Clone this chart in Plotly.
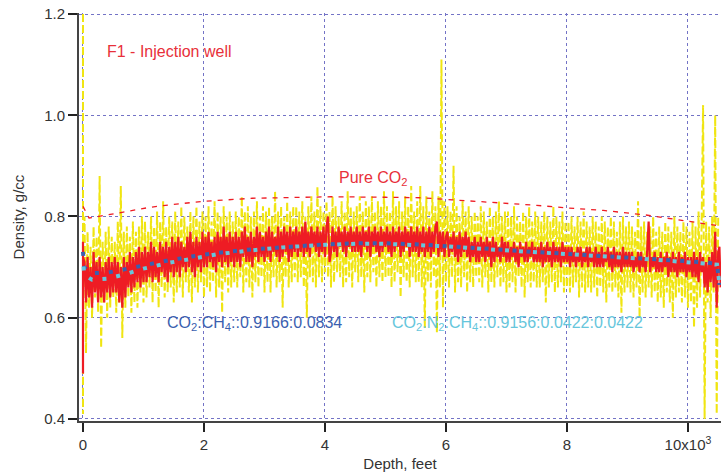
import plotly.graph_objects as go

# ---------------- data (depth in feet, density in g/cc) ----------------
GRID = list(range(25, 10501, 25))   # sampling depths of the logged curves

yellow_start_depth = [0, 0, 0]
yellow_start_val = [1.20, 0.41, 0.76]
yellow_grid_val = [
    0.80, 0.53, 0.77, 0.62, 0.74, 0.60, 0.78, 0.64, 0.76, 0.61, 0.88, 0.54, 0.75, 0.63, 0.77, 0.60, 0.78, 0.62, 0.76, 0.64,
    0.75, 0.61, 0.79, 0.63, 0.86, 0.56, 0.77, 0.62, 0.78, 0.64, 0.76, 0.61, 0.79, 0.63, 0.77, 0.62, 0.78, 0.65, 0.80, 0.63,
    0.79, 0.64, 0.77, 0.66, 0.80, 0.63, 0.78, 0.65, 0.81, 0.62, 0.79, 0.66, 0.83, 0.64, 0.78, 0.65, 0.80, 0.66, 0.79, 0.63,
    0.81, 0.65, 0.79, 0.66, 0.82, 0.64, 0.80, 0.67, 0.78, 0.65, 0.81, 0.63, 0.80, 0.66, 0.82, 0.65, 0.79, 0.67, 0.81, 0.64,
    0.80, 0.66, 0.82, 0.65, 0.79, 0.67, 0.83, 0.64, 0.81, 0.66, 0.80, 0.61, 0.82, 0.67, 0.80, 0.65, 0.81, 0.66, 0.79, 0.67,
    0.81, 0.66, 0.80, 0.68, 0.84, 0.65, 0.81, 0.67, 0.82, 0.66, 0.80, 0.64, 0.81, 0.67, 0.83, 0.66, 0.80, 0.68, 0.82, 0.65,
    0.81, 0.67, 0.82, 0.65, 0.80, 0.68, 0.85, 0.66, 0.81, 0.67, 0.82, 0.62, 0.80, 0.68, 0.83, 0.66, 0.81, 0.67, 0.82, 0.68,
    0.82, 0.67, 0.81, 0.68, 0.83, 0.66, 0.80, 0.60, 0.82, 0.68, 0.84, 0.67, 0.81, 0.66, 0.86, 0.68, 0.82, 0.67, 0.81, 0.69,
    0.83, 0.68, 0.81, 0.66, 0.84, 0.67, 0.82, 0.69, 0.80, 0.68, 0.83, 0.66, 0.81, 0.67, 0.85, 0.68, 0.82, 0.66, 0.81, 0.69,
    0.82, 0.67, 0.84, 0.68, 0.81, 0.65, 0.83, 0.68, 0.82, 0.67, 0.84, 0.69, 0.81, 0.66, 0.83, 0.68, 0.82, 0.67, 0.85, 0.68,
    0.82, 0.68, 0.81, 0.66, 0.85, 0.67, 0.82, 0.69, 0.83, 0.64, 0.81, 0.68, 0.84, 0.67, 0.82, 0.66, 0.86, 0.68, 0.81, 0.67,
    0.83, 0.67, 0.86, 0.66, 0.82, 0.58, 0.84, 0.67, 0.81, 0.66, 0.85, 0.68, 0.82, 0.57, 0.84, 0.66, 1.11, 0.62, 0.83, 0.67,
    0.82, 0.66, 0.81, 0.68, 0.90, 0.65, 0.82, 0.67, 0.80, 0.66, 0.83, 0.68, 0.81, 0.65, 0.82, 0.67, 0.80, 0.66, 0.81, 0.68,
    0.80, 0.67, 0.82, 0.66, 0.81, 0.68, 0.79, 0.65, 0.82, 0.67, 0.80, 0.66, 0.81, 0.68, 0.83, 0.66, 0.80, 0.67, 0.81, 0.65,
    0.81, 0.66, 0.80, 0.67, 0.82, 0.65, 0.80, 0.68, 0.79, 0.66, 0.81, 0.64, 0.80, 0.67, 0.82, 0.66, 0.79, 0.67, 0.81, 0.66,
    0.80, 0.66, 0.79, 0.67, 0.81, 0.63, 0.80, 0.66, 0.79, 0.67, 0.82, 0.65, 0.80, 0.66, 0.79, 0.67, 0.81, 0.65, 0.79, 0.66,
    0.79, 0.65, 0.80, 0.66, 0.78, 0.67, 0.80, 0.64, 0.79, 0.66, 0.81, 0.65, 0.79, 0.66, 0.78, 0.65, 0.80, 0.66, 0.79, 0.64,
    0.78, 0.66, 0.80, 0.65, 0.79, 0.63, 0.78, 0.66, 0.80, 0.65, 0.79, 0.66, 0.77, 0.64, 0.79, 0.61, 0.80, 0.65, 0.78, 0.66,
    0.79, 0.65, 0.78, 0.64, 0.77, 0.66, 0.83, 0.60, 0.78, 0.65, 0.79, 0.64, 0.77, 0.66, 0.78, 0.64, 0.80, 0.65, 0.77, 0.63,
    0.78, 0.64, 0.77, 0.62, 0.79, 0.65, 0.78, 0.63, 0.77, 0.60, 0.80, 0.64, 0.78, 0.65, 0.77, 0.63, 0.79, 0.64, 0.78, 0.62,
    0.77, 0.63, 0.79, 0.58, 0.78, 0.62, 0.81, 0.64, 0.78, 1.02, 0.40, 0.79, 0.63, 0.78, 0.60, 0.80, 0.65, 1.00, 0.41, 0.80,
]

red_start_depth = [0, 0, 0]
red_start_val = [0.75, 0.49, 0.72]
red_grid_val = [
    0.71, 0.63, 0.72, 0.64, 0.70, 0.62, 0.73, 0.65, 0.71, 0.63, 0.72, 0.64, 0.70, 0.63, 0.71, 0.65, 0.72, 0.64, 0.71, 0.65,
    0.72, 0.65, 0.71, 0.63, 0.70, 0.62, 0.72, 0.64, 0.71, 0.66, 0.73, 0.65, 0.72, 0.66, 0.73, 0.67, 0.74, 0.66, 0.73, 0.67,
    0.74, 0.67, 0.73, 0.68, 0.75, 0.67, 0.74, 0.68, 0.73, 0.67, 0.75, 0.69, 0.74, 0.68, 0.75, 0.67, 0.74, 0.69, 0.76, 0.68,
    0.75, 0.69, 0.76, 0.68, 0.75, 0.70, 0.74, 0.69, 0.76, 0.70, 0.77, 0.69, 0.75, 0.68, 0.76, 0.70, 0.75, 0.69, 0.77, 0.70,
    0.76, 0.70, 0.77, 0.71, 0.75, 0.70, 0.76, 0.69, 0.77, 0.71, 0.76, 0.70, 0.78, 0.71, 0.76, 0.70, 0.77, 0.71, 0.76, 0.70,
    0.77, 0.71, 0.76, 0.70, 0.77, 0.72, 0.78, 0.71, 0.76, 0.71, 0.77, 0.70, 0.76, 0.72, 0.78, 0.71, 0.77, 0.72, 0.76, 0.71,
    0.77, 0.72, 0.78, 0.71, 0.77, 0.73, 0.76, 0.72, 0.78, 0.71, 0.77, 0.72, 0.78, 0.73, 0.77, 0.71, 0.78, 0.72, 0.77, 0.73,
    0.78, 0.72, 0.77, 0.73, 0.78, 0.72, 0.79, 0.73, 0.77, 0.72, 0.78, 0.74, 0.77, 0.73, 0.78, 0.72, 0.77, 0.73, 0.78, 0.72,
    0.78, 0.80, 0.71, 0.73, 0.78, 0.73, 0.77, 0.72, 0.78, 0.74, 0.77, 0.73, 0.78, 0.72, 0.77, 0.74, 0.78, 0.73, 0.77, 0.73,
    0.78, 0.73, 0.77, 0.72, 0.78, 0.74, 0.77, 0.73, 0.78, 0.72, 0.77, 0.74, 0.78, 0.73, 0.77, 0.72, 0.78, 0.73, 0.77, 0.74,
    0.78, 0.73, 0.77, 0.72, 0.78, 0.73, 0.77, 0.74, 0.78, 0.72, 0.77, 0.73, 0.78, 0.74, 0.77, 0.72, 0.78, 0.73, 0.77, 0.73,
    0.78, 0.72, 0.77, 0.73, 0.78, 0.72, 0.77, 0.73, 0.78, 0.72, 0.77, 0.73, 0.78, 0.79, 0.72, 0.77, 0.73, 0.77, 0.72, 0.76,
    0.77, 0.72, 0.76, 0.73, 0.77, 0.72, 0.76, 0.71, 0.77, 0.72, 0.76, 0.73, 0.77, 0.72, 0.76, 0.71, 0.75, 0.72, 0.76, 0.71,
    0.75, 0.71, 0.76, 0.72, 0.75, 0.71, 0.76, 0.72, 0.75, 0.70, 0.76, 0.71, 0.75, 0.72, 0.74, 0.71, 0.76, 0.72, 0.75, 0.71,
    0.75, 0.71, 0.74, 0.72, 0.75, 0.71, 0.74, 0.70, 0.75, 0.72, 0.74, 0.71, 0.75, 0.71, 0.74, 0.72, 0.75, 0.71, 0.74, 0.71,
    0.74, 0.71, 0.75, 0.70, 0.74, 0.71, 0.75, 0.71, 0.74, 0.70, 0.75, 0.71, 0.74, 0.71, 0.74, 0.70, 0.75, 0.71, 0.74, 0.71,
    0.74, 0.70, 0.74, 0.71, 0.73, 0.70, 0.74, 0.71, 0.74, 0.70, 0.73, 0.71, 0.74, 0.70, 0.74, 0.71, 0.73, 0.70, 0.74, 0.70,
    0.73, 0.70, 0.74, 0.70, 0.73, 0.71, 0.74, 0.70, 0.73, 0.69, 0.74, 0.70, 0.73, 0.70, 0.73, 0.69, 0.74, 0.70, 0.73, 0.70,
    0.73, 0.70, 0.73, 0.69, 0.72, 0.70, 0.73, 0.69, 0.73, 0.70, 0.72, 0.69, 0.73, 0.79, 0.69, 0.72, 0.70, 0.73, 0.69, 0.72,
    0.69, 0.73, 0.69, 0.72, 0.70, 0.73, 0.68, 0.72, 0.69, 0.73, 0.69, 0.72, 0.68, 0.73, 0.69, 0.72, 0.69, 0.73, 0.68, 0.72,
    0.69, 0.72, 0.68, 0.73, 0.68, 0.72, 0.67, 0.73, 0.69, 0.72, 0.66, 0.71, 0.65, 0.72, 0.67, 0.73, 0.66, 0.77, 0.62, 0.73,
]
red_end_depth = [10520, 10540]
red_end_val = [0.74, 0.66]

mix1_depth = [0, 20, 150, 400, 700, 1000, 1400, 1800, 2200, 2700, 3300, 4000, 4500,
              5000, 5500, 6000, 6600, 7200, 7800, 8500, 9200, 9800, 10300, 10480, 10520]
mix1_val = [0.730, 0.700, 0.688, 0.689, 0.696, 0.704, 0.713, 0.721, 0.728, 0.734, 0.740,
            0.745, 0.747, 0.747, 0.745, 0.742, 0.737, 0.732, 0.728, 0.723, 0.718, 0.713,
            0.709, 0.706, 0.665]
mix2_depth = [0, 20, 150, 400, 700, 1000, 1400, 1800, 2200, 2700, 3300, 4000, 4500,
              5000, 5500, 6000, 6600, 7200, 7800, 8500, 9200, 9800, 10300, 10480, 10520]
mix2_val = [0.715, 0.685, 0.675, 0.677, 0.686, 0.697, 0.708, 0.717, 0.725, 0.732, 0.739,
            0.744, 0.746, 0.746, 0.744, 0.741, 0.736, 0.731, 0.727, 0.722, 0.717, 0.712,
            0.708, 0.705, 0.668]

pure_depth = [0, 100, 400, 700, 1100, 1500, 2000, 2800, 3500, 4100, 5000, 5600, 6100,
              6900, 7500, 8000, 8600, 9300, 10200, 10540]
pure_val = [0.820, 0.797, 0.803, 0.809, 0.818, 0.824, 0.830, 0.836, 0.838, 0.839, 0.838,
            0.837, 0.833, 0.827, 0.822, 0.817, 0.812, 0.803, 0.788, 0.781]

x_tickvals = [0, 2000, 4000, 6000, 8000, 10000]
x_ticktext = ["0", "2", "4", "6", "8", "10x10<sup>3</sup>"]
y_tickvals = [0.4, 0.6, 0.8, 1.0, 1.2]
y_ticktext = ["0.4", "0.6", "0.8", "1.0", "1.2"]

# ---------------- figure ----------------
FONT = "Liberation Sans, Arial, sans-serif"
RED = "#ee1c24"
YELLOW = "#f0e512"
BLUE = "#3b5faf"
CYAN = "#66c6dc"
GRIDC = "#7373c6"

fig = go.Figure()
fig.add_trace(go.Scatter(x=yellow_start_depth + GRID, y=yellow_start_val + yellow_grid_val,
                         mode="lines", line=dict(color=YELLOW, width=2, dash="8px,3px"),
                         hoverinfo="skip"))
fig.add_trace(go.Scatter(x=red_start_depth + GRID + red_end_depth,
                         y=red_start_val + red_grid_val + red_end_val,
                         mode="lines", line=dict(color=RED, width=2.2), hoverinfo="skip"))
fig.add_trace(go.Scatter(x=mix1_depth, y=mix1_val, mode="lines",
                         line=dict(color=BLUE, width=4, dash="4px,10px"), hoverinfo="skip"))
fig.add_trace(go.Scatter(x=mix2_depth, y=mix2_val, mode="lines",
                         line=dict(color=CYAN, width=4, dash="0px,7px,4px,3px"), hoverinfo="skip"))
fig.add_trace(go.Scatter(x=pure_depth, y=pure_val, mode="lines",
                         line=dict(color=RED, width=1.3, dash="5px,6px"), hoverinfo="skip"))

ann_font = dict(family=FONT, size=16)
fig.add_annotation(x=360, y=1.125, text="F1 - Injection well", showarrow=False,
                   xanchor="left", yanchor="middle", font=dict(ann_font, color="#e8303a"))
fig.add_annotation(x=4790, y=0.876, text="Pure CO<sub>2</sub>", showarrow=False,
                   xanchor="center", yanchor="middle", font=dict(ann_font, color="#e8303a"))
fig.add_annotation(x=1355, y=0.588, text="CO<sub>2</sub>:CH<sub>4</sub>::0.9166:0.0834",
                   showarrow=False, xanchor="left", yanchor="middle",
                   font=dict(ann_font, color=BLUE))
fig.add_annotation(x=5070, y=0.588,
                   text="CO<sub>2</sub>:N<sub>2</sub>:CH<sub>4</sub>::0.9156:0.0422:0.0422",
                   showarrow=False, xanchor="left", yanchor="middle",
                   font=dict(ann_font, color=CYAN))

fig.update_layout(
    width=721, height=472,
    margin=dict(l=79, r=0, t=13, b=51),
    paper_bgcolor="white", plot_bgcolor="white",
    showlegend=False,
    font=dict(family=FONT, size=15, color="#333333"),
)
fig.update_xaxes(
    range=[-66, 10546], tickvals=x_tickvals, ticktext=x_ticktext,
    showgrid=True, gridcolor=GRIDC, gridwidth=1, griddash="dot",
    showline=True, linecolor="#444444", linewidth=2,
    ticks="outside", ticklen=9, tickcolor="#222222", tickwidth=1.5,
    zeroline=False,
    title=dict(text="Depth, feet", font=dict(family=FONT, size=15, color="#333333"), standoff=8),
)
fig.update_yaxes(
    range=[0.396, 1.202], tickvals=y_tickvals, ticktext=y_ticktext,
    showgrid=True, gridcolor=GRIDC, gridwidth=1, griddash="dot",
    showline=True, linecolor="#444444", linewidth=2,
    ticks="outside", ticklen=9, tickcolor="#222222", tickwidth=1.5,
    zeroline=False,
    title=dict(text="Density, g/cc", font=dict(family=FONT, size=15, color="#333333"), standoff=16),
)

fig.write_html("out.html")
